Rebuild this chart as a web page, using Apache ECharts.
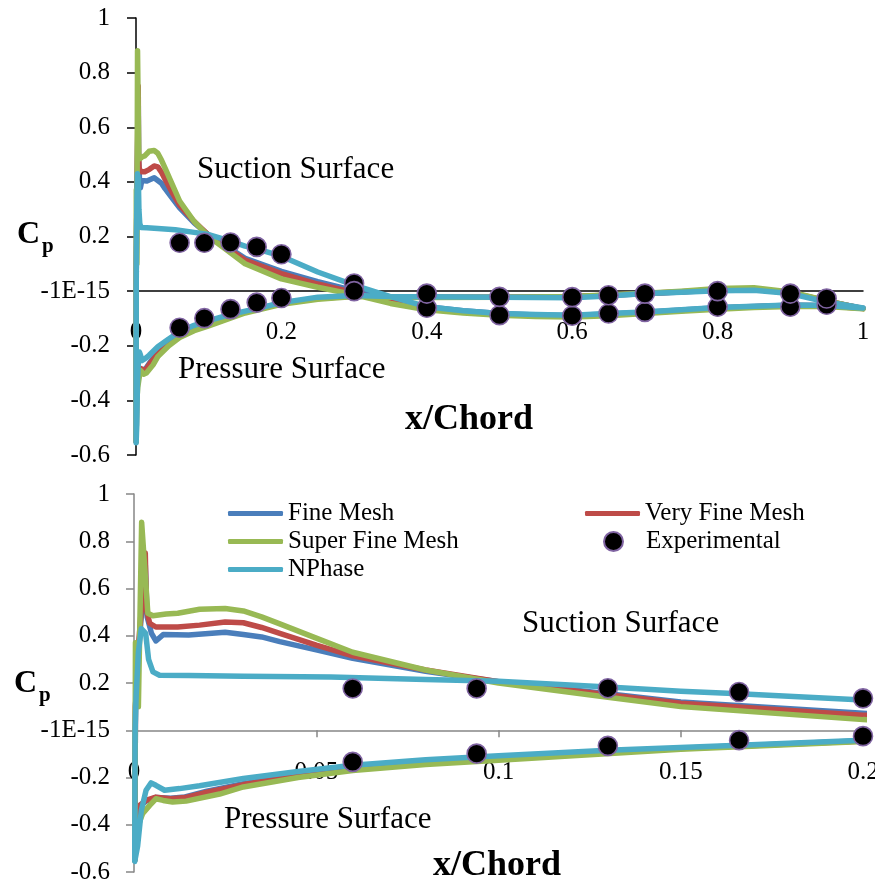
<!DOCTYPE html>
<html>
<head>
<meta charset="utf-8">
<script src="https://cdn.jsdelivr.net/npm/echarts@6/dist/echarts.min.js"></script>
<style>html,body{margin:0;padding:0;background:#fff}#c{width:875px;height:884px}</style>
</head>
<body>
<div id="c"></div>
<script>
// ---- Data (x/Chord, Cp), ordered along the surface: pressure side TE -> LE, then suction side LE -> TE ----
const fineX = [1.0, 0.95, 0.9, 0.85, 0.8, 0.75, 0.7, 0.6, 0.5, 0.4, 0.35, 0.3, 0.25, 0.2, 0.15, 0.1, 0.08, 0.06, 0.045, 0.03, 0.02, 0.014, 0.01, 0.006, 0.0033, 0.001, 0.0002,
  0.0004, 0.0012, 0.0022, 0.0031, 0.0036, 0.0048, 0.006, 0.008, 0.015, 0.025, 0.03, 0.035, 0.04, 0.05, 0.06, 0.08, 0.1, 0.13, 0.15, 0.2, 0.25, 0.3, 0.35, 0.4, 0.45, 0.5, 0.55, 0.6, 0.65, 0.7, 0.75, 0.8, 0.85, 0.9, 0.95, 1.0];
const fineCp = [-0.063, -0.037, -0.006, 0.006, 0.004, -0.003, -0.01, -0.021, -0.022, -0.022, -0.021, -0.018, -0.026, -0.044, -0.076, -0.12, -0.138, -0.163, -0.19, -0.226, -0.258, -0.282, -0.288, -0.285, -0.3, -0.33, -0.55,
  0.1, 0.33, 0.52, 0.7, 0.48, 0.41, 0.378, 0.405, 0.403, 0.415, 0.405, 0.395, 0.375, 0.34, 0.305, 0.25, 0.205, 0.155, 0.12, 0.072, 0.035, 0.002, -0.035, -0.057, -0.072, -0.082, -0.087, -0.089, -0.084, -0.077, -0.069, -0.061, -0.056, -0.052, -0.053, -0.063];

const veryFineX = [1.0, 0.95, 0.9, 0.85, 0.8, 0.75, 0.7, 0.6, 0.5, 0.4, 0.35, 0.3, 0.25, 0.2, 0.15, 0.1, 0.08, 0.06, 0.045, 0.03, 0.02, 0.014, 0.01, 0.006, 0.0033, 0.001, 0.0002,
  0.0004, 0.0012, 0.0022, 0.0031, 0.0034, 0.0043, 0.006, 0.012, 0.018, 0.025, 0.03, 0.035, 0.04, 0.05, 0.06, 0.08, 0.1, 0.13, 0.15, 0.2, 0.25, 0.3, 0.35, 0.4, 0.45, 0.5, 0.55, 0.6, 0.65, 0.7, 0.75, 0.8, 0.85, 0.9, 0.95, 1.0];
const veryFineCp = [-0.064, -0.036, -0.005, 0.008, 0.006, -0.002, -0.009, -0.021, -0.022, -0.022, -0.021, -0.018, -0.027, -0.045, -0.077, -0.122, -0.14, -0.165, -0.193, -0.23, -0.262, -0.285, -0.29, -0.283, -0.297, -0.325, -0.55,
  0.1, 0.35, 0.55, 0.75, 0.51, 0.453, 0.437, 0.437, 0.445, 0.458, 0.455, 0.435, 0.41, 0.36, 0.315, 0.255, 0.205, 0.15, 0.114, 0.064, 0.026, -0.006, -0.04, -0.062, -0.076, -0.085, -0.09, -0.091, -0.086, -0.079, -0.071, -0.063, -0.057, -0.053, -0.054, -0.064];

const superFineX = [1.0, 0.95, 0.9, 0.85, 0.8, 0.75, 0.7, 0.6, 0.5, 0.4, 0.35, 0.3, 0.25, 0.2, 0.15, 0.1, 0.08, 0.06, 0.045, 0.03, 0.0235, 0.0143, 0.0106, 0.008, 0.006, 0.0043, 0.0024, 0.001, 0.0002,
  0.0004, 0.0012, 0.0021, 0.0038, 0.0052, 0.0088, 0.012, 0.018, 0.025, 0.03, 0.035, 0.04, 0.05, 0.06, 0.08, 0.1, 0.13, 0.15, 0.2, 0.25, 0.3, 0.35, 0.4, 0.45, 0.5, 0.55, 0.6, 0.65, 0.7, 0.75, 0.8, 0.85, 0.9, 0.95, 1.0];
const superFineCp = [-0.065, -0.035, -0.003, 0.012, 0.01, 0.0, -0.008, -0.02, -0.022, -0.023, -0.022, -0.02, -0.03, -0.048, -0.08, -0.127, -0.145, -0.17, -0.2, -0.24, -0.27, -0.3, -0.304, -0.297, -0.29, -0.318, -0.352, -0.41, -0.55,
  0.37, 0.1, 0.88, 0.495, 0.485, 0.492, 0.495, 0.512, 0.515, 0.505, 0.48, 0.45, 0.39, 0.33, 0.255, 0.2, 0.14, 0.1, 0.045, 0.014, -0.013, -0.045, -0.068, -0.08, -0.088, -0.093, -0.095, -0.09, -0.082, -0.074, -0.066, -0.06, -0.056, -0.056, -0.065];

const nphaseX = [1.0, 0.95, 0.9, 0.85, 0.8, 0.75, 0.7, 0.65, 0.6, 0.5, 0.4, 0.35, 0.3, 0.25, 0.2, 0.166, 0.13, 0.1, 0.08, 0.06, 0.045, 0.03, 0.018, 0.0125, 0.0084, 0.006, 0.0047, 0.0033, 0.002, 0.001, 0.0002,
  0.0003, 0.0006, 0.0012, 0.002, 0.0032, 0.004, 0.0052, 0.007, 0.015, 0.03, 0.054, 0.08, 0.1, 0.13, 0.15, 0.166, 0.2, 0.25, 0.3, 0.35, 0.4, 0.45, 0.5, 0.55, 0.6, 0.65, 0.7, 0.75, 0.8, 0.85, 0.9, 0.95, 1.0];
const nphaseCp = [-0.062, -0.04, -0.009, 0.003, 0.001, -0.004, -0.009, -0.018, -0.024, -0.022, -0.021, -0.02, -0.016, -0.022, -0.042, -0.064, -0.085, -0.108, -0.125, -0.148, -0.175, -0.204, -0.235, -0.247, -0.254, -0.233, -0.223, -0.254, -0.34, -0.49, -0.555,
  0.0, 0.15, 0.33, 0.43, 0.41, 0.3, 0.247, 0.233, 0.232, 0.229, 0.225, 0.215, 0.207, 0.183, 0.165, 0.155, 0.128, 0.07, 0.022, -0.02, -0.057, -0.072, -0.082, -0.086, -0.088, -0.082, -0.076, -0.068, -0.06, -0.055, -0.051, -0.053, -0.062];

const expX = [0.06, 0.094, 0.13, 0.166, 0.2, 0.3, 0.4, 0.5, 0.6, 0.65, 0.7, 0.8, 0.9, 0.95,
  0.06, 0.094, 0.13, 0.166, 0.2, 0.3, 0.4, 0.5, 0.6, 0.65, 0.7, 0.8, 0.9, 0.95];
const expCp = [0.177, 0.177, 0.178, 0.162, 0.135, 0.028, -0.061, -0.088, -0.09, -0.082, -0.076, -0.057, -0.057, -0.05,
  -0.134, -0.099, -0.066, -0.042, -0.025, 0.0, -0.009, -0.021, -0.022, -0.015, -0.009, 0.0, -0.009, -0.027];

const yTicks = { min: -0.6, max: 1, interval: 0.2 };
const topXTicks = { min: 0, max: 1, interval: 0.2 };
const bottomXTicks = { min: 0, max: 0.2, interval: 0.05 };

// ---- Build ----
const FONT = "'Liberation Serif', 'Times New Roman', serif";
const zip = (xs, ys) => xs.map((x, i) => [x, ys[i]]);
const COLORS = { fine: '#4a7ebb', veryFine: '#be4b48', superFine: '#98b954', nphase: '#4bacc6' };
const GRIDS = [
  { left: 136, top: 18, width: 727, height: 437, outerBoundsMode: 'none', containLabel: false },
  { left: 134, top: 494, width: 729, height: 378, outerBoundsMode: 'none', containLabel: false }
];
// offset (negative = upward) that puts the x axis on the Cp = 0 line
const zeroOffset = g => -GRIDS[g].height * (0 - yTicks.min) / (yTicks.max - yTicks.min);

function yLabel(v) {
  if (Math.abs(v) < 1e-9) return '-1E-15';
  return String(+v.toFixed(2));
}
function xLabel(v) { return String(+v.toFixed(2)); }

function lineSeries(name, color, xs, ys, g) {
  return {
    type: 'line', name, xAxisIndex: g, yAxisIndex: g,
    data: zip(xs, ys), symbol: 'none', showSymbol: false, clip: true,
    lineStyle: { color, width: 5.5, join: 'round', cap: 'round' },
    itemStyle: { color }, emphasis: { disabled: true }
  };
}
function expSeries(g, maxX) {
  const d = zip(expX, expCp).filter(p => p[0] <= maxX + 1e-9);
  return {
    type: 'scatter', name: 'Experimental', xAxisIndex: g, yAxisIndex: g,
    data: d, symbol: 'circle', symbolSize: 19, clip: false, z: 5,
    itemStyle: { color: '#000', opacity: 1, borderColor: '#8064a2', borderWidth: 1.6 },
    emphasis: { disabled: true }
  };
}

const series = [];
[0, 1].forEach(g => {
  series.push(lineSeries('Fine Mesh', COLORS.fine, fineX, fineCp, g));
  series.push(lineSeries('Very Fine Mesh', COLORS.veryFine, veryFineX, veryFineCp, g));
  series.push(lineSeries('Super Fine Mesh', COLORS.superFine, superFineX, superFineCp, g));
  series.push(lineSeries('NPhase', COLORS.nphase, nphaseX, nphaseCp, g));
  series.push(expSeries(g, g === 0 ? topXTicks.max : bottomXTicks.max));
});

const labelStyle = { fontFamily: FONT, fontSize: 25, color: '#000' };
const legendText = { fontFamily: FONT, fontSize: 25, color: '#000', lineHeight: 25 };
const legendBase = { orient: 'vertical', itemWidth: 55, itemGap: 3, textStyle: legendText, selectedMode: false, padding: 0 };

function txt(text, x, y, font) {
  return { type: 'text', x, y, silent: true,
    style: { text, font, fill: '#000', align: 'left', verticalAlign: 'middle', textAlign: 'left', textVerticalAlign: 'middle' } };
}

const option = {
  animation: false,
  backgroundColor: '#fff',
  grid: GRIDS,
  xAxis: [
    { gridIndex: 0, type: 'value', min: topXTicks.min, max: topXTicks.max, interval: topXTicks.interval,
      offset: zeroOffset(0),
      axisLine: { onZero: false, lineStyle: { color: '#000', width: 1.5 } },
      axisTick: { show: false }, splitLine: { show: false },
      axisLabel: Object.assign({ margin: 29, formatter: xLabel }, labelStyle) },
    { gridIndex: 1, type: 'value', min: bottomXTicks.min, max: bottomXTicks.max, interval: bottomXTicks.interval,
      offset: zeroOffset(1),
      axisLine: { onZero: false, lineStyle: { color: '#868686', width: 1.5 } },
      axisTick: { show: true, length: 7, lineStyle: { color: '#868686', width: 1.5 } }, splitLine: { show: false },
      axisLabel: Object.assign({ margin: 30, formatter: xLabel }, labelStyle) }
  ],
  yAxis: [
    { gridIndex: 0, type: 'value', min: yTicks.min, max: yTicks.max, interval: yTicks.interval,
      axisLine: { show: true, onZero: false, lineStyle: { color: '#000', width: 1.5 } },
      axisTick: { show: true, length: 9, lineStyle: { color: '#000', width: 1.5 } }, splitLine: { show: false },
      axisLabel: Object.assign({ margin: 26, formatter: yLabel }, labelStyle) },
    { gridIndex: 1, type: 'value', min: yTicks.min, max: yTicks.max, interval: yTicks.interval,
      axisLine: { show: true, onZero: false, lineStyle: { color: '#868686', width: 1.5 } },
      axisTick: { show: true, length: 8, lineStyle: { color: '#868686', width: 1.5 } }, splitLine: { show: false },
      axisLabel: Object.assign({ margin: 24, formatter: yLabel }, labelStyle) }
  ],
  legend: [
    Object.assign({ data: [{ name: 'Fine Mesh', icon: 'roundRect' }, { name: 'Super Fine Mesh', icon: 'roundRect' }, { name: 'NPhase', icon: 'roundRect' }],
      left: 228, top: 501, itemHeight: 5 }, legendBase),
    Object.assign({ data: [{ name: 'Very Fine Mesh', icon: 'roundRect' }], left: 585, top: 501, itemHeight: 5 }, legendBase),
    Object.assign({ data: [{ name: 'Experimental', icon: 'circle' }], left: 603, top: 529, itemHeight: 19 }, legendBase)
  ],
  graphic: [
    txt('C', 17, 235, 'bold 32px ' + FONT),
    txt('p', 42, 247, 'bold 21px ' + FONT),
    txt('C', 14, 684, 'bold 32px ' + FONT),
    txt('p', 39, 696, 'bold 21px ' + FONT),
    txt('x/Chord', 405, 420, 'bold 36px ' + FONT),
    txt('x/Chord', 433, 866, 'bold 36px ' + FONT),
    txt('Suction Surface', 197, 170, '31px ' + FONT),
    txt('Pressure Surface', 178, 370, '31px ' + FONT),
    txt('Suction Surface', 522, 624, '31px ' + FONT),
    txt('Pressure Surface', 224, 820, '31px ' + FONT)
  ],
  series
};

const chart = echarts.init(document.getElementById('c'), null, { renderer: 'canvas' });
chart.setOption(option);
</script>
</body>
</html>
